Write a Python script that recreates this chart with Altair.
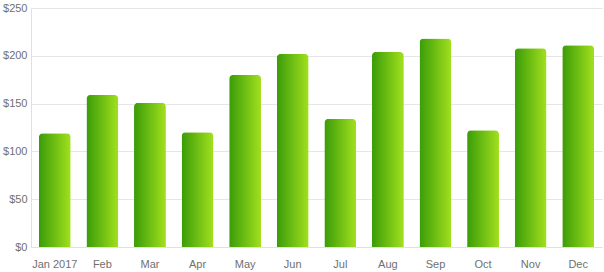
import altair as alt
import pandas as pd

months = ["Jan 2017", "Feb", "Mar", "Apr", "May", "Jun", "Jul", "Aug", "Sep", "Oct", "Nov", "Dec"]
values = [119, 159, 151, 120, 180, 202, 134, 204, 218, 122, 208, 211]

df = pd.DataFrame({"month": months, "value": values})

grad = alt.Gradient(
    gradient="linear",
    stops=[alt.GradientStop(color="#3a9c08", offset=0), alt.GradientStop(color="#a2e01e", offset=1)],
    x1=0, x2=1, y1=0, y2=0,
)

chart = alt.Chart(df).mark_bar(
    color=grad, cornerRadiusTopLeft=4, cornerRadiusTopRight=4
).encode(
    x=alt.X("month:N", sort=months, title=None,
            scale=alt.Scale(paddingInner=0.33, paddingOuter=0.165),
            axis=alt.Axis(labelAngle=0, labelColor="#707070", labelFont="Liberation Sans",
                          labelFontSize=11, labelPadding=11, ticks=False, domainColor="#e0e0e0",
                          grid=False)),
    y=alt.Y("value:Q", title=None,
            scale=alt.Scale(domain=[0, 250]),
            axis=alt.Axis(values=[0, 50, 100, 150, 200, 250], format="$,.0f",
                          labelColor="#707070", labelFont="Liberation Sans", labelFontSize=11,
                          labelPadding=4, ticks=False, domainColor="#e0e0e0",
                          gridColor="#e6e6e6")),
).properties(
    width=571, height=239,
    autosize=alt.AutoSizeParams(type="none"),
    padding={"left": 31, "top": 8, "right": 2, "bottom": 25},
).configure_view(stroke=None)

chart.save("out.html", embed_options={"renderer": "svg", "actions": False})
